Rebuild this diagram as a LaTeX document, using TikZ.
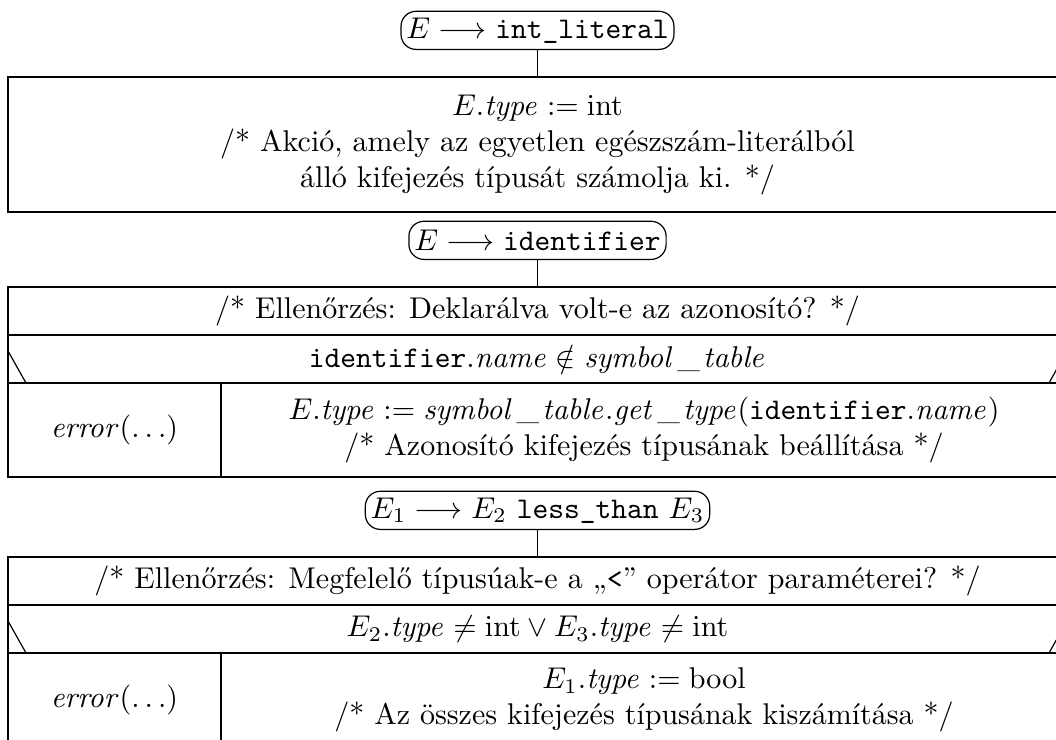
\documentclass[tikz,border=0pt]{standalone}
\usetikzlibrary{fit}
% spaced underscore inside italic identifiers
\newcommand{\usc}{\mkern2mu\_\mkern2mu}
\begin{document}
\begin{tikzpicture}[x=0.3333pt,y=-0.3333pt,line width=0.4pt,
  hdr/.style={draw, rounded corners=5pt, inner xsep=1.8pt, inner ysep=0pt,
              minimum height=12.7pt, anchor=south},
  cell/.style={draw, rectangle, inner sep=0pt, align=center},
  txt/.style={align=center, inner sep=0pt}]
\useasboundingbox (0,0) rectangle (1056,740);

% --- E -> int_literal
\node[hdr] (h1) at (537.5,50) {$E \longrightarrow \texttt{int\_literal}$};
\node[cell, fit={(8,77)(1067,212)}] (b1) {};
\node[txt] (t1) at (b1.center) {$E.\mathit{type} := \mathrm{int}$\\
  /* Akció, amely az egyetlen egészszám-literálból\\
  álló kifejezés típusát számolja ki. */};
\draw (h1) -- (b1);

% --- E -> identifier
\node[hdr] (h2) at (537.5,260) {$E \longrightarrow \texttt{identifier}$};
\node[cell, fit={(8,287)(1067,335)}] (c2) {};
\node[txt] at (c2.center) {/* Ellenőrzés: Deklarálva volt-e az azonosító? */};
\node[cell, fit={(8,335)(1067,383)}] (q2) {};
\node[txt] at (q2.center) {$\texttt{identifier}.\mathit{name} \notin \mathit{symbol}\usc\mathit{table}$};
\node[cell, fit={(8,383)(221,477)}] (n2) {};
\node[txt] at (n2.center) {$\mathit{error}(\ldots)$};
\node[cell, fit={(221,383)(1067,477)}] (y2) {};
\node[txt] at (y2.center) {$E.\mathit{type} := \mathit{symbol}\usc\mathit{table}.\mathit{get}\usc\mathit{type}(\texttt{identifier}.\mathit{name})$\\
  /* Azonosító kifejezés típusának beállítása */};
\draw (8,351) -- (26,383);
\draw (1049,383) -- (1067,351);
\draw (h2) -- (c2);

% --- E1 -> E2 less_than E3
\node[hdr] (h3) at (537.5,530) {$E_1 \longrightarrow E_2$ \texttt{less\_than} $E_3$};
\node[cell, fit={(8,557)(1067,605)}] (c3) {};
\node[txt] at (c3.center) {/* Ellenőrzés: Megfelelő típusúak-e a „\texttt{<}” operátor paraméterei? */};
\node[cell, fit={(8,605)(1067,653)}] (q3) {};
\node[txt] at (q3.center) {$E_2.\mathit{type} \neq \mathrm{int} \vee E_3.\mathit{type} \neq \mathrm{int}$};
\node[cell, fit={(8,653)(221,747)}] (n3) {};
\node[txt] at (n3.center) {$\mathit{error}(\ldots)$};
\node[cell, fit={(221,653)(1067,747)}] (y3) {};
\node[txt] at (y3.center) {$E_1.\mathit{type} := \mathrm{bool}$\\
  /* Az összes kifejezés típusának kiszámítása */};
\draw (8,621) -- (26,653);
\draw (1049,653) -- (1067,621);
\draw (h3) -- (c3);
\end{tikzpicture}
\end{document}
